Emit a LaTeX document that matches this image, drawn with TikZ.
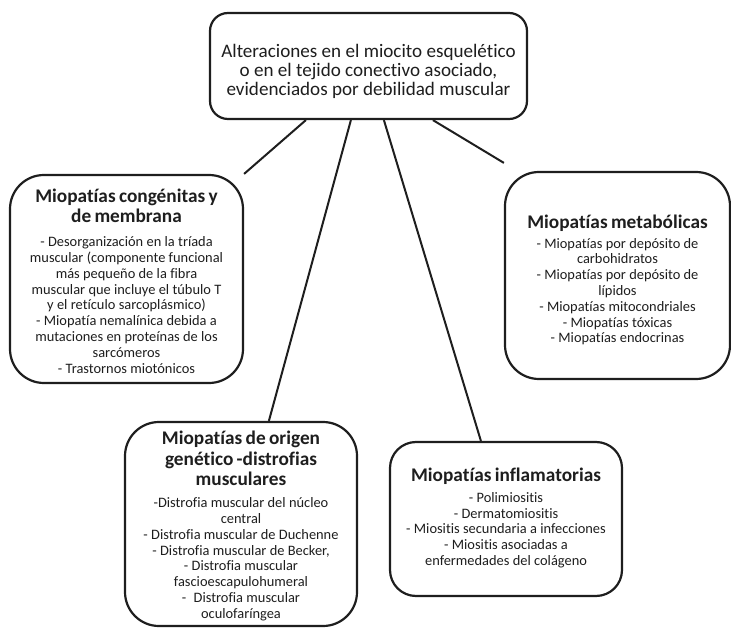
\documentclass[tikz,border=0pt]{standalone}
\usepackage{fontspec}
\setmainfont{Carlito}[Ligatures={NoCommon}]
\usetikzlibrary{calc}
\definecolor{ink}{HTML}{1E1E1E}
\tikzset{
  box/.style={draw=ink, line width=2.2pt, rounded corners=#1, fill=white, inner sep=0pt},
  box/.default=30pt,
  txt/.style={align=center, text=ink, inner sep=0pt},
  link/.style={draw=ink, line width=2pt},
}
\newcommand{\topfont}{\fontsize{19.1}{18.8}\selectfont}
\newcommand{\ttlfont}{\fontsize{19.3}{20.5}\selectfont\bfseries}
\newcommand{\bdyfont}{\fontsize{14.4}{15.8}\selectfont}
\begin{document}
\begin{tikzpicture}[x=1pt,y=-1pt]
\useasboundingbox (0,0) rectangle (731,628);
% boxes
\node[box=18pt, minimum width=317pt, minimum height=106pt] (top) at (368.5,66) {};
\node[box=34pt, minimum width=233pt, minimum height=208pt] (cong) at (126.5,279) {};
\node[box=34pt, minimum width=225pt, minimum height=207pt] (met) at (617.5,275.5) {};
\node[box=34pt, minimum width=232pt, minimum height=204pt] (gen) at (241,524) {};
\node[box=26pt, minimum width=232pt, minimum height=154pt] (infl) at (506,519) {};
% texts
\node[txt, font=\topfont] (toptxt) at (368.5,71.5) {Alteraciones en el miocito esquelético\\o en el tejido conectivo asociado,\\evidenciados por debilidad muscular};
\node[txt, text width=230pt] (congtxt) at (126.5,281) {{\ttlfont Miopatías congénitas y\\de membrana\par}\vspace{8pt}
{\bdyfont - Desorganización en la tríada\\muscular (componente funcional\\más pequeño de la fibra\\muscular que incluye el túbulo T\\y el retículo sarcoplásmico)\\- Miopatía nemalínica debida a\\mutaciones en proteínas de los\\sarcómeros\\- Trastornos miotónicos\par}};
\node[txt, text width=222pt] (mettxt) at (617.5,280) {{\ttlfont Miopatías metabólicas\par}\vspace{4pt}
{\bdyfont - Miopatías por depósito de\\carbohidratos\\- Miopatías por depósito de\\lípidos\\- Miopatías mitocondriales\\- Miopatías tóxicas\\- Miopatías endocrinas\par}};
\node[txt, text width=230pt] (gentxt) at (241,526) {{\ttlfont Miopatías de origen\\genético -distrofias\\musculares\par}\vspace{6pt}
{\bdyfont -Distrofia muscular del núcleo\\central\\- Distrofia muscular de Duchenne\\- Distrofia muscular de Becker,\\- Distrofia muscular\\fascioescapulohumeral\\-\; Distrofia muscular\\oculofaríngea\par}};
\node[txt, text width=230pt] (infltxt) at (506,518) {{\ttlfont Miopatías inflamatorias\par}\vspace{5pt}
{\bdyfont - Polimiositis\\- Dermatomiositis\\- Miositis secundaria a infecciones\\- Miositis asociadas a\\enfermedades del colágeno\par}};
% connectors
\draw[link] ([xshift=97pt]top.south west) -- (cong.north east);
\draw[link] ([xshift=142pt]top.south west) -- ([xshift=145pt]gen.north west);
\draw[link] ([xshift=175pt]top.south west) -- ([xshift=92pt]infl.north west);
\draw[link] ([xshift=224pt]top.south west) -- ([yshift=8pt]met.north west);
\end{tikzpicture}
\end{document}
